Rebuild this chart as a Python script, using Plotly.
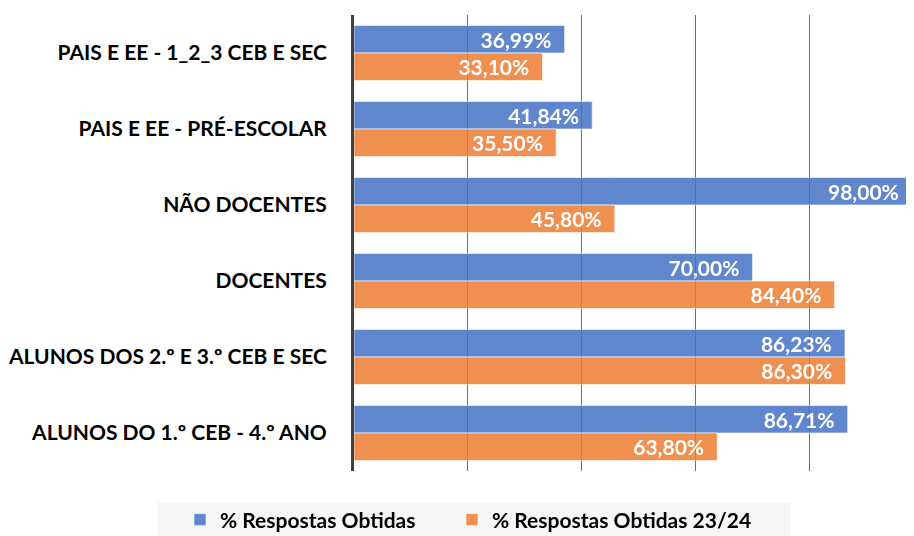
import plotly.graph_objects as go

categories = [
    "PAIS E EE - 1_2_3 CEB E SEC",
    "PAIS E EE - PRÉ-ESCOLAR",
    "NÃO DOCENTES",
    "DOCENTES",
    "ALUNOS DOS 2.º E 3.º CEB E SEC",
    "ALUNOS DO 1.º CEB - 4.º ANO",
]
series_names = ["% Respostas Obtidas", "% Respostas Obtidas 23/24"]
respostas = [36.99, 41.84, 98.00, 70.00, 86.23, 86.71]
respostas_2324 = [33.10, 35.50, 45.80, 84.40, 86.30, 63.80]
colors = ["#4472C4", "#ED7D31"]

FONT = "Lato"

# page body has an 8px default margin; compensate so the chart fills 914x536
OFF = 8
L, T, B = 352 - OFF, 15 - OFF, 65
W, H = 914 - OFF, 536 - OFF
PW, PH = W - L, H - T - B


def fmt(v):
    return f"{v:.2f}%".replace(".", ",") + "\u00a0\u00a0"


fig = go.Figure()
for i, (name, vals, col) in enumerate(zip(series_names, [respostas, respostas_2324], colors)):
    fig.add_trace(go.Bar(
        y=categories, x=vals, name=name, orientation="h",
        legend="legend" if i == 0 else "legend2",
        marker=dict(color=col, line=dict(color="rgba(255,255,255,0.6)", width=1)),
        opacity=0.85,
        text=[fmt(v) for v in vals],
        textposition="inside", insidetextanchor="end", constraintext="none",
        textfont=dict(family=FONT, size=21, color="white", weight="bold"),
        cliponaxis=False,
    ))


def px_x(x):
    return (x - OFF - L) / PW


def px_y(y):
    return (T + PH - (y - OFF)) / PH


fig.add_shape(type="rect", xref="paper", yref="paper",
              x0=px_x(155), x1=px_x(790),
              y0=px_y(537), y1=px_y(502),
              fillcolor="#f6f6f6", line=dict(width=0), layer="below")

legend_common = dict(orientation="h", xref="container", yref="container",
                     xanchor="left", yanchor="middle", y=1 - (520 - OFF) / H,
                     font=dict(family=FONT, size=21, color="black", weight="bold"),
                     bgcolor="rgba(0,0,0,0)", itemwidth=30)

fig.update_layout(
    width=W, height=H,
    margin=dict(l=L, r=0, t=T, b=B),
    paper_bgcolor="white", plot_bgcolor="white",
    barmode="group", bargap=0.276, bargroupgap=0,
    uniformtext=dict(mode="show", minsize=21),
    showlegend=True,
    legend=dict(x=(180 - OFF) / W, **legend_common),
    legend2=dict(x=(452 - OFF) / W, **legend_common),
    font=dict(family=FONT),
)
fig.update_xaxes(range=[0, 98.35], dtick=20, showgrid=True, gridcolor="#6e6e6e",
                 gridwidth=1, showticklabels=False, zeroline=False, showline=False,
                 fixedrange=True)
fig.update_yaxes(autorange="reversed", showline=True, linecolor="#404040", linewidth=3,
                 tickfont=dict(family=FONT, size=21, color="black", weight="bold"),
                 ticklabelstandoff=20, showgrid=False)

fig.write_html("out.html")
